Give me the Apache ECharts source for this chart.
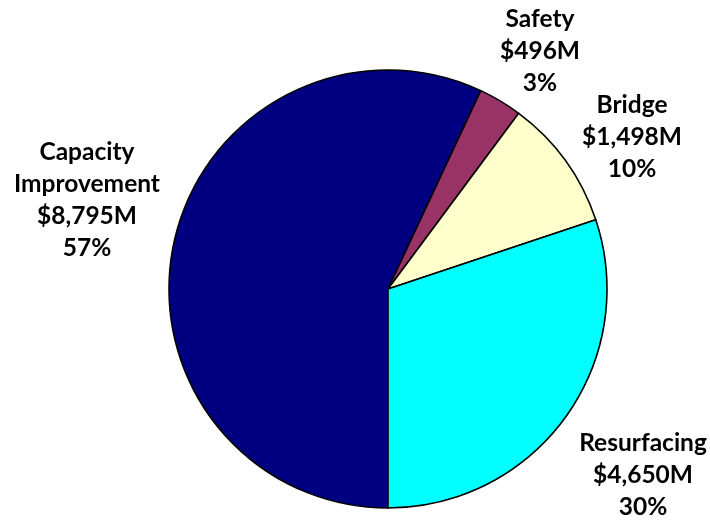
<!DOCTYPE html>
<html>
<head>
<meta charset="utf-8">
<script src="https://cdn.jsdelivr.net/npm/echarts@6/dist/echarts.min.js"></script>
<style>
  html, body { margin: 0; padding: 0; background: #ffffff; }
  #chart { width: 710px; height: 522px; }
</style>
</head>
<body>
<div id="chart"></div>
<script>
// ---- Data ----
const categories = ['Capacity\nImprovement', 'Safety', 'Bridge', 'Resurfacing'];
const valuesM = [8795, 496, 1498, 4650];
const percents = [57, 3, 10, 30];

// ---- Styling / layout (kept separate from the data) ----
const sliceColors = ['#000080', '#993366', '#FFFFCC', '#00FFFF'];
const labelCenters = [[87, 200], [540, 51], [632, 137], [643, 475]];

const fmt = v => '$' + v.toLocaleString('en-US') + 'M';

const chart = echarts.init(document.getElementById('chart'), null, { renderer: 'canvas' });

const data = categories.map((name, i) => ({
  name: name,
  value: valuesM[i],
  itemStyle: { color: sliceColors[i] }
}));

chart.setOption({
  animation: false,
  backgroundColor: '#ffffff',
  series: [{
    type: 'pie',
    center: [388, 289],
    radius: [0, 219],
    startAngle: -90,
    clockwise: true,
    avoidLabelOverlap: false,
    data: data,
    itemStyle: { borderColor: '#000000', borderWidth: 1.6 },
    emphasis: { disabled: true },
    label: {
      show: true,
      position: 'outside',
      fontFamily: 'Lato',
      fontWeight: 'bold',
      fontSize: 24.5,
      lineHeight: 32,
      color: '#000000',
      align: 'center',
      formatter: p => p.name + '\n' + fmt(valuesM[p.dataIndex]) + '\n' + percents[p.dataIndex] + '%'
    },
    labelLine: { show: false },
    labelLayout: params => ({
      x: labelCenters[params.dataIndex][0],
      y: labelCenters[params.dataIndex][1],
      align: 'center',
      verticalAlign: 'middle'
    })
  }]
});
</script>
</body>
</html>
